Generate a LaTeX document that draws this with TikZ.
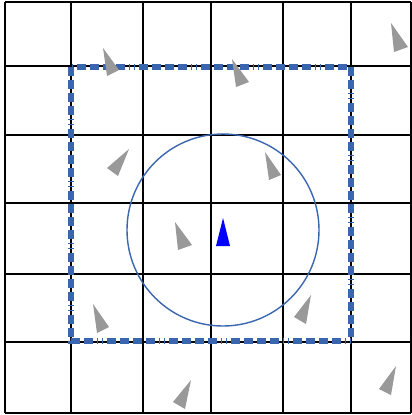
\documentclass[tikz,border=0pt]{standalone}
\begin{document}
\begin{tikzpicture}[x=1pt,y=-1pt,
  gridline/.style={line width=2pt,black},
  zone/.style={line width=6pt,draw={rgb,255:red,58;green,102;blue,176},
    dash pattern=on 9pt off 4pt on 9pt off 4pt on 9pt off 4pt on 9pt off 4pt on 1pt off 4pt on 1pt off 4pt},
  ring/.style={line width=1.4pt,draw={rgb,255:red,58;green,102;blue,176}},
  agent/.style={fill={rgb,255:red,153;green,153;blue,153},draw=none},
  me/.style={fill={rgb,255:red,0;green,0;blue,255},draw=none}]
\useasboundingbox (0,0) rectangle (412,415);
\fill[white] (0,0) rectangle (412,415);
% grid
\foreach \x in {5,71,143,211,283,351,411}
  \draw[gridline] (\x,2) -- (\x,413);
\foreach \y in {2,66,135,203,274,342,413}
  \draw[gridline] (5,\y) -- (411,\y);
% zone
\draw[zone] (71,67) rectangle (351,341);
% ring
\draw[ring] (223,230) circle (96);
% agents
\fill[agent] (103,48) -- (107,76) -- (119,70) -- cycle;
\fill[agent] (129,149) -- (107,168) -- (118,176) -- cycle;
\fill[agent] (232,59) -- (236,87) -- (249,82) -- cycle;
\fill[agent] (391,23) -- (394,52) -- (408,47) -- cycle;
\fill[agent] (265,152) -- (269,180) -- (281,175) -- cycle;
\fill[agent] (175,222) -- (178,250) -- (192,245) -- cycle;
\fill[agent] (93,304) -- (97,333) -- (109,327) -- cycle;
\fill[agent] (191,380) -- (173,402) -- (185,409) -- cycle;
\fill[agent] (311,295) -- (294,317) -- (306,324) -- cycle;
\fill[agent] (396,366) -- (379,389) -- (391,395) -- cycle;
% self
\fill[me] (223,218) -- (216,246) -- (230,246) -- cycle;
\end{tikzpicture}
\end{document}
